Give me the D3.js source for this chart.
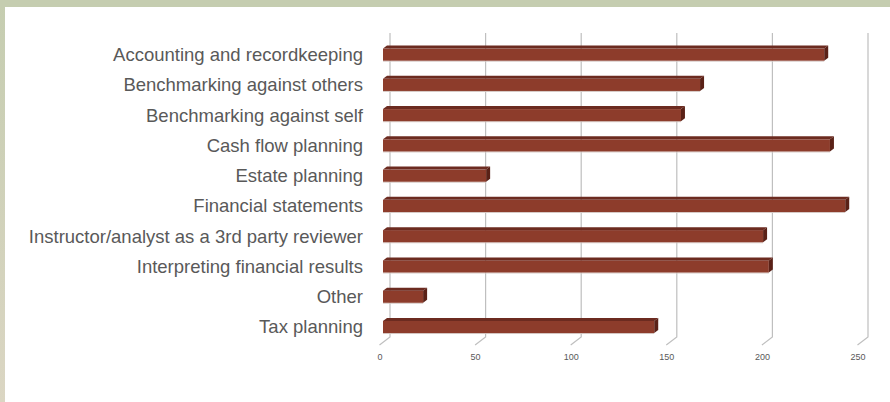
<!DOCTYPE html>
<html>
<head>
<meta charset="utf-8">
<script src="https://cdn.jsdelivr.net/npm/d3@7"></script>
<style>
  body { margin: 0; background: #fff; }
  svg { display: block; font-family: "Liberation Sans", Arial, sans-serif; }
</style>
</head>
<body>
<div id="chart"></div>
<script>
const categories = [
  "Accounting and recordkeeping",
  "Benchmarking against others",
  "Benchmarking against self",
  "Cash flow planning",
  "Estate planning",
  "Financial statements",
  "Instructor/analyst as a 3rd party reviewer",
  "Interpreting financial results",
  "Other",
  "Tax planning"
];
const values = [231, 166, 156, 234, 54, 242, 199, 202, 21, 142];
const ticks = [0, 50, 100, 150, 200, 250];

const width = 890;
const height = 402;

const svg = d3.select("#chart")
  .append("svg")
  .attr("width", width)
  .attr("height", height);

// frame: green top band, left band fading to beige
const defs = svg.append("defs");
const grad = defs.append("linearGradient")
  .attr("id", "leftBand")
  .attr("x1", 0).attr("y1", 0).attr("x2", 0).attr("y2", 1);
grad.append("stop").attr("offset", "0%").attr("stop-color", "#c5cdb0");
grad.append("stop").attr("offset", "100%").attr("stop-color", "#dbd6c3");

svg.append("rect").attr("x", 0).attr("y", 0).attr("width", 5).attr("height", height).attr("fill", "url(#leftBand)");
svg.append("rect").attr("x", 0).attr("y", 0).attr("width", width).attr("height", 7).attr("fill", "#c5cdb0");

// scales: front plane for bars, back wall for gridlines
const xFront = d3.scaleLinear().domain([0, 250]).range([383, 860.5]);
const xBack = d3.scaleLinear().domain([0, 250]).range([390, 868]);
const y = d3.scaleBand()
  .domain(categories)
  .range([38, 340.6])
  .paddingInner(0.5)
  .paddingOuter(0.25);

const gridTop = 33, gridBottom = 337;

// gridlines with little floor ticks
const grid = svg.append("g").attr("class", "grid");
grid.selectAll("path")
  .data(ticks)
  .enter()
  .append("path")
  .attr("d", d => `M${xBack(d)},${gridTop}V${gridBottom}L${xBack(d) - 10.5},${gridBottom + 8}`)
  .attr("fill", "none")
  .attr("stroke", "#bfbfbf")
  .attr("stroke-width", 1.2);

grid.selectAll("text")
  .data(ticks)
  .enter()
  .append("text")
  .attr("x", d => xBack(d) - 10)
  .attr("y", 360)
  .attr("text-anchor", "middle")
  .attr("font-size", 9)
  .attr("fill", "#595959")
  .text(d => d);

// 3D-ish bars
const dx = 4, dy = 3;
const bars = svg.append("g").attr("class", "bars")
  .selectAll("g")
  .data(categories.map((c, i) => ({ c, v: values[i] })))
  .enter()
  .append("g");

bars.append("line")
  .attr("x1", xFront(0))
  .attr("x2", d => xFront(d.v))
  .attr("y1", d => y(d.c) + y.bandwidth() + 0.5)
  .attr("y2", d => y(d.c) + y.bandwidth() + 0.5)
  .attr("stroke", "#d6c9c5")
  .attr("stroke-width", 1);

bars.append("rect")
  .attr("x", xFront(0))
  .attr("y", d => y(d.c) + dy)
  .attr("width", d => xFront(d.v) - xFront(0))
  .attr("height", y.bandwidth() - dy)
  .attr("fill", "#8d3c2b");

bars.append("path")
  .attr("d", d => {
    const x0 = xFront(0), x1 = xFront(d.v), t = y(d.c);
    return `M${x0},${t + dy}L${x0 + dx},${t}L${x1 + dx},${t}L${x1},${t + dy}Z`;
  })
  .attr("fill", "#6c2b20");

bars.append("path")
  .attr("d", d => {
    const x1 = xFront(d.v), t = y(d.c), b = y(d.c) + y.bandwidth();
    return `M${x1},${t + dy}L${x1 + dx},${t}L${x1 + dx},${b - dy}L${x1},${b}Z`;
  })
  .attr("fill", "#5a2117");

// category labels
svg.append("g").attr("class", "labels")
  .selectAll("text")
  .data(categories)
  .enter()
  .append("text")
  .attr("x", 363)
  .attr("y", d => y(d) + y.bandwidth() / 2 + 1.5)
  .attr("dy", "0.35em")
  .attr("text-anchor", "end")
  .attr("font-size", 18.5)
  .attr("fill", "#595959")
  .text(d => d);
</script>
</body>
</html>
